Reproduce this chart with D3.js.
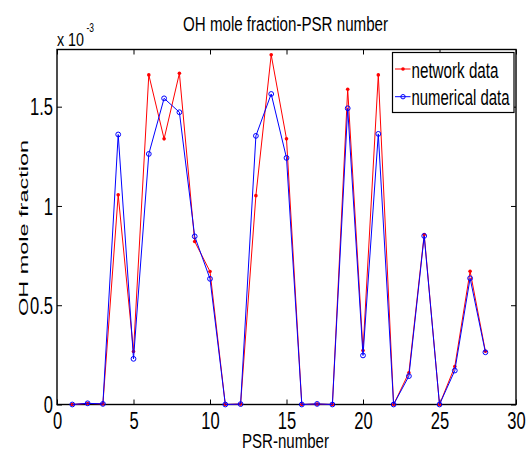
<!DOCTYPE html>
<html><head><meta charset="utf-8">
<script src="https://cdn.jsdelivr.net/npm/d3@7"></script>
<style>body{margin:0;background:#fff}svg{display:block}text{font-family:Arial,"Liberation Sans",sans-serif;fill:#000}</style>
</head><body>
<script>
const psr = [1,2,3,4,5,6,7,8,9,10,11,12,13,14,15,16,17,18,19,20,21,22,23,24,25,26,27,28];
// values in units of 1e-3
const networkData = [0,0.005,0.003,1.056,0.267,1.66,1.338,1.668,0.821,0.670,0,0.002,1.052,1.761,1.338,0,0.002,0,1.588,0.272,1.66,0,0.16,0.856,0,0.191,0.671,0.268];
const numericalData = [0,0.006,0.003,1.36,0.23,1.262,1.542,1.472,0.847,0.633,0,0.002,1.353,1.564,1.242,0,0.003,0,1.492,0.247,1.363,0,0.143,0.849,0,0.171,0.636,0.263];
const xTicks = [0,5,10,15,20,25,30];
const yTicks = [0,0.5,1,1.5];
const yTickLabels = ["0","0.5","1","1.5"];
const seriesNames = ["network data","numerical data"];

const W=531,H=453;
const L=57,R=516,T=49.5,B=404.5;
const svg=d3.select("body").append("svg").attr("width",W).attr("height",H);
const x=d3.scaleLinear().domain([0,30]).range([L,R]);
const y=d3.scaleLinear().domain([0,1.788]).range([B,T]);
const SX=0.72;

// axes
const gx=svg.append("g").attr("transform",`translate(0,${B})`)
  .call(d3.axisBottom(x).tickValues(xTicks).tickFormat(d3.format("d")).tickSizeInner(-5).tickSizeOuter(0).tickPadding(8));
const gy=svg.append("g").attr("transform",`translate(${L},0)`)
  .call(d3.axisLeft(y).tickValues(yTicks).tickFormat((d,i)=>yTickLabels[i]).tickSizeInner(-5).tickSizeOuter(0).tickPadding(4));
const gxt=svg.append("g").attr("transform",`translate(0,${T})`)
  .call(d3.axisTop(x).tickValues(xTicks).tickFormat("").tickSizeInner(-5).tickSizeOuter(0));
const gyr=svg.append("g").attr("transform",`translate(${R},0)`)
  .call(d3.axisRight(y).tickValues(yTicks).tickFormat("").tickSizeInner(-5).tickSizeOuter(0));
[gx,gy,gxt,gyr].forEach(g=>{g.select(".domain").remove();g.selectAll("line").attr("stroke","#000").attr("stroke-width",1);});
gx.selectAll("text").attr("font-size",23).attr("font-family","Arial,'Liberation Sans',sans-serif").attr("transform",`scale(${SX},1)`);
gy.selectAll("text").attr("font-size",23).attr("font-family","Arial,'Liberation Sans',sans-serif")
  .attr("x",-4/SX).attr("dy","0.36em").attr("transform",`scale(${SX},1)`);
svg.append("rect").attr("x",L).attr("y",T).attr("width",R-L).attr("height",B-T)
  .attr("fill","none").attr("stroke","#000").attr("stroke-width",1.4);

// series
const line=d3.line().x((d,i)=>x(psr[i])).y(d=>y(d));
svg.append("path").datum(networkData).attr("d",line).attr("fill","none").attr("stroke","#ff0000").attr("stroke-width",1);
svg.append("g").selectAll("circle").data(networkData).join("circle")
  .attr("cx",(d,i)=>x(psr[i])).attr("cy",d=>y(d)).attr("r",1.8).attr("fill","#ff0000");
svg.append("path").datum(numericalData).attr("d",line).attr("fill","none").attr("stroke","#0000ff").attr("stroke-width",1);
svg.append("g").selectAll("circle").data(numericalData).join("circle")
  .attr("cx",(d,i)=>x(psr[i])).attr("cy",d=>y(d)).attr("r",2.4).attr("fill","none").attr("stroke","#0000ff").attr("stroke-width",1);

// title and labels
svg.append("text").attr("x",285.5).attr("y",30.5).attr("text-anchor","middle").attr("font-size",19.5)
  .attr("textLength",205).attr("lengthAdjust","spacingAndGlyphs").text("OH mole fraction-PSR number");
svg.append("text").attr("x",285.5).attr("y",448).attr("text-anchor","middle").attr("font-size",20)
  .attr("textLength",87).attr("lengthAdjust","spacingAndGlyphs").text("PSR-number");
svg.append("text").attr("transform","translate(27.5,228) rotate(-90)").attr("text-anchor","middle").attr("font-size",12.5)
  .attr("textLength",176).attr("lengthAdjust","spacingAndGlyphs").text("OH mole fraction");
svg.append("text").attr("x",57).attr("y",45.8).attr("font-size",18)
  .attr("textLength",27).attr("lengthAdjust","spacingAndGlyphs").text("x 10");
svg.append("text").attr("x",86.5).attr("y",32).attr("font-size",13)
  .attr("textLength",7.5).attr("lengthAdjust","spacingAndGlyphs").text("-3");

// legend
const lg=svg.append("g");
lg.append("rect").attr("x",392.5).attr("y",52.5).attr("width",121.5).attr("height",60)
  .attr("fill","#fff").attr("stroke","#000").attr("stroke-width",1.2);
const colors=["#ff0000","#0000ff"], ly=[69,96.7], tl=[87,98];
seriesNames.forEach((n,i)=>{
  lg.append("line").attr("x1",395).attr("x2",410.5).attr("y1",ly[i]).attr("y2",ly[i]).attr("stroke",colors[i]).attr("stroke-width",1);
  if(i===0) lg.append("circle").attr("cx",403).attr("cy",ly[i]).attr("r",1.8).attr("fill",colors[i]);
  else lg.append("circle").attr("cx",403).attr("cy",ly[i]).attr("r",2.2).attr("fill","none").attr("stroke",colors[i]);
  lg.append("text").attr("x",411.5).attr("y",ly[i]+8.5).attr("font-size",22)
    .attr("textLength",tl[i]).attr("lengthAdjust","spacingAndGlyphs").text(n);
});
</script>
</body></html>
